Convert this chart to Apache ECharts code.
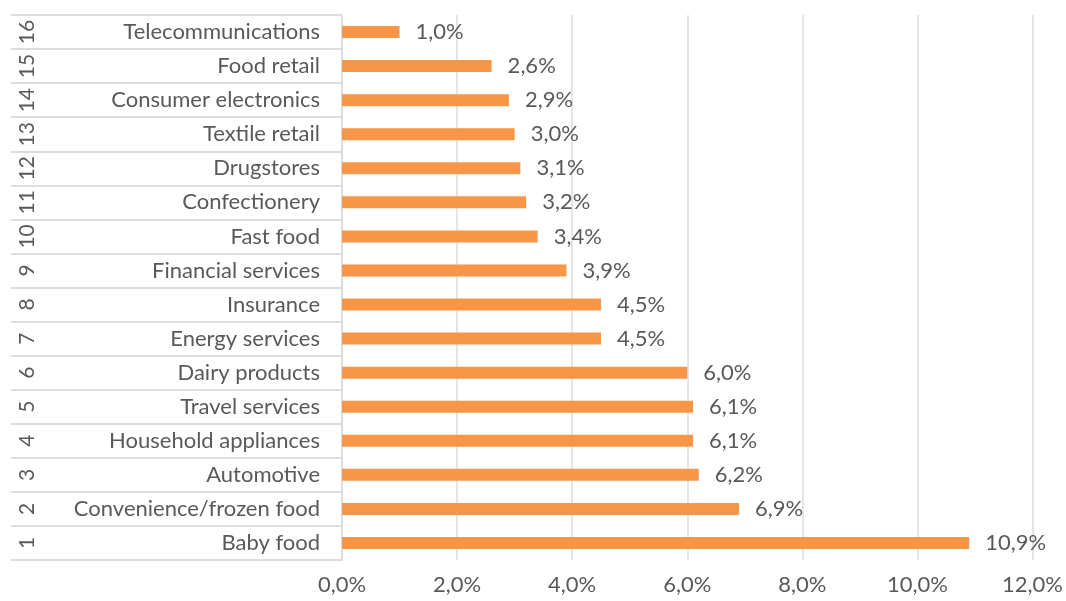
<!DOCTYPE html>
<html>
<head>
<meta charset="utf-8">
<script src="https://cdn.jsdelivr.net/npm/echarts@6/dist/echarts.min.js"></script>
<style>
  html, body { margin: 0; padding: 0; background: #fff; }
  #chart { width: 1066px; height: 601px; }
</style>
</head>
<body>
<div id="chart"></div>
<script>
// Rank numbers and sector names, listed bottom to top
const ranks = ['1','2','3','4','5','6','7','8','9','10','11','12','13','14','15','16'];
const sectors = [
  'Baby food', 'Convenience/frozen food', 'Automotive', 'Household appliances',
  'Travel services', 'Dairy products', 'Energy services', 'Insurance',
  'Financial services', 'Fast food', 'Confectionery', 'Drugstores',
  'Textile retail', 'Consumer electronics', 'Food retail', 'Telecommunications'
];
// Share in percent
const shares = [10.9, 6.9, 6.2, 6.1, 6.1, 6.0, 4.5, 4.5, 3.9, 3.4, 3.2, 3.1, 3.0, 2.9, 2.6, 1.0];

const FONT = 'Lato';
const TEXT = '#595959';
const LINE = '#dcdcdc';
const pct = v => v.toFixed(1).replace('.', ',') + '%';

const chart = echarts.init(document.getElementById('chart'));
chart.setOption({
  animation: false,
  grid: { left: 342, right: 31, top: 15, bottom: 41, containLabel: false },
  xAxis: {
    type: 'value', min: 0, max: 12, interval: 2,
    axisLine: { show: false }, axisTick: { show: false },
    splitLine: { lineStyle: { color: LINE, width: 1.5 } },
    axisLabel: { formatter: pct, color: TEXT, fontFamily: FONT, fontSize: 22, margin: 14 }
  },
  yAxis: [
    {
      type: 'category', data: sectors, position: 'left',
      axisLine: { show: true, lineStyle: { color: LINE, width: 1.5 } },
      axisTick: { show: true, length: 278, lineStyle: { color: LINE, width: 2 } },
      axisLabel: { color: TEXT, fontFamily: FONT, fontSize: 22, margin: 22 }
    },
    {
      type: 'category', data: ranks, position: 'left', offset: 278,
      axisLine: { show: false },
      axisTick: { show: true, length: 53, lineStyle: { color: LINE, width: 2 } },
      axisLabel: { color: TEXT, fontFamily: FONT, fontSize: 21, rotate: 90, margin: 26 }
    }
  ],
  series: [{
    type: 'bar', data: shares, yAxisIndex: 0, barWidth: 12,
    itemStyle: { color: '#F79646' },
    label: {
      show: true, position: 'right', distance: 16,
      formatter: p => pct(p.value), color: TEXT, fontFamily: FONT, fontSize: 22
    }
  }]
});
</script>
</body>
</html>
